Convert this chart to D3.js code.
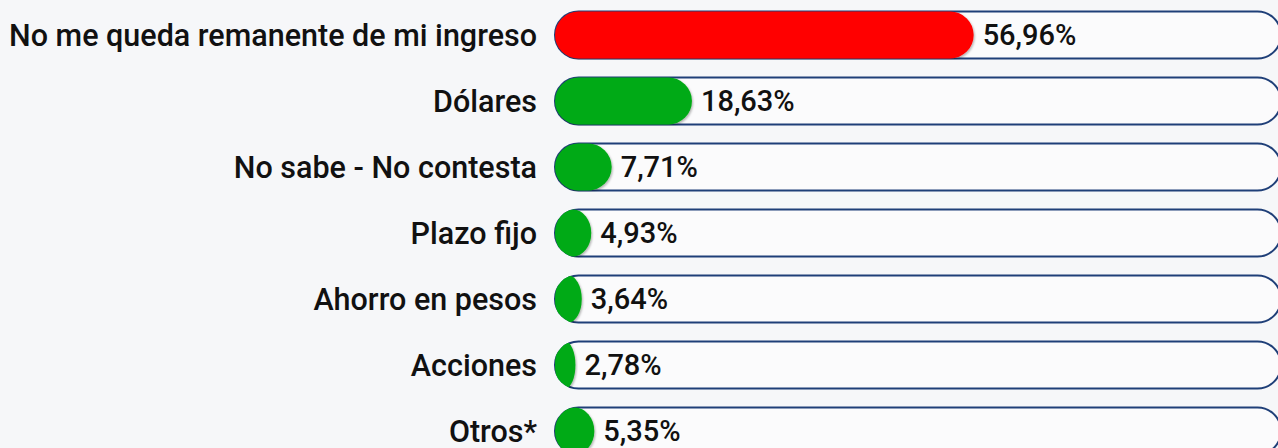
<!DOCTYPE html>
<html>
<head>
<meta charset="utf-8">
<script src="https://cdn.jsdelivr.net/npm/d3@7"></script>
<style>
  html, body { margin: 0; padding: 0; background: #f6f7f9; }
  svg { display: block; }
  text { font-family: Roboto, "Noto Sans", sans-serif; fill: #111; }
</style>
</head>
<body>
<svg id="chart" width="1278" height="448"></svg>
<script>
// Data
const categories = [
  "No me queda remanente de mi ingreso",
  "Dólares",
  "No sabe - No contesta",
  "Plazo fijo",
  "Ahorro en pesos",
  "Acciones",
  "Otros*"
];
const values = [56.96, 18.63, 7.71, 4.93, 3.64, 2.78, 5.35];
const barColors = ["#ff0000", "#00aa14", "#00aa14", "#00aa14", "#00aa14", "#00aa14", "#00aa14"];

const svg = d3.select("#chart");

const trackX = 555, trackEnd = 1281;
const barH = 47;

// y positions by category
const y = d3.scaleBand()
  .domain(categories)
  .range([2, 2 + 66 * categories.length])
  .paddingInner(0.288)
  .paddingOuter(0.144);

// percent -> px
const x = d3.scaleLinear().domain([0, 100]).range([trackX, trackX + 735]);

const defs = svg.append("defs");
const shadow = defs.append("filter").attr("id", "shadow")
  .attr("x", "-10%").attr("y", "-20%").attr("width", "120%").attr("height", "150%");
shadow.append("feDropShadow")
  .attr("dx", 1).attr("dy", 1.5).attr("stdDeviation", 1.2)
  .attr("flood-color", "#000").attr("flood-opacity", 0.3);

// one clip shape shared by every row (row coords)
defs.append("clipPath").attr("id", "trackClip")
  .append("rect")
  .attr("x", trackX - 1).attr("y", -1)
  .attr("width", trackEnd - trackX + 2).attr("height", barH + 2)
  .attr("rx", barH / 2 + 1).attr("ry", barH / 2 + 1);

const rows = svg.selectAll("g.row")
  .data(categories.map((c, i) => ({ cat: c, val: values[i], color: barColors[i] })))
  .enter().append("g")
  .attr("class", "row")
  .attr("transform", d => `translate(0,${y(d.cat) + (y.bandwidth() - barH) / 2})`);

// track
rows.append("rect")
  .attr("x", trackX).attr("y", 0)
  .attr("width", trackEnd - trackX).attr("height", barH)
  .attr("rx", barH / 2).attr("ry", barH / 2)
  .attr("fill", "#fbfbfc")
  .attr("stroke", "#1f3f78")
  .attr("stroke-width", 2);

// value bar
rows.append("g")
  .attr("clip-path", "url(#trackClip)")
  .append("rect")
  .attr("x", trackX)
  .attr("y", 0)
  .attr("width", d => x(d.val) - trackX)
  .attr("height", barH)
  .attr("rx", barH / 2).attr("ry", barH / 2)
  .attr("fill", d => d.color)
  .attr("filter", "url(#shadow)");

// category labels
rows.append("text")
  .attr("x", trackX - 18)
  .attr("y", barH / 2)
  .attr("dy", "0.35em")
  .attr("text-anchor", "end")
  .style("font-size", "30.5px")
  .style("font-weight", 500)
  .text(d => d.cat);

// value labels
rows.append("text")
  .attr("x", d => Math.max(x(d.val), trackX + 14) + 9)
  .attr("y", barH / 2)
  .attr("dy", "0.35em")
  .style("font-size", "29px")
  .style("font-weight", 500)
  .text(d => d3.format(".2f")(d.val).replace(".", ",") + "%");
</script>
</body>
</html>
